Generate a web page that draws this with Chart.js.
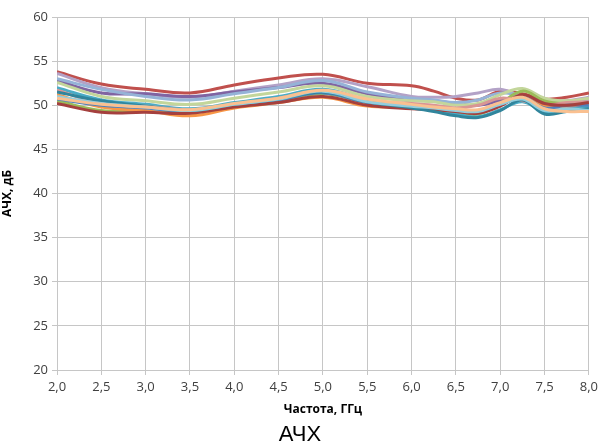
<!DOCTYPE html>
<html>
<head>
<meta charset="utf-8">
<script src="https://cdn.jsdelivr.net/npm/chart.js@4.4.0/dist/chart.umd.min.js"></script>
<style>
  html, body { margin: 0; padding: 0; background: #fff; }
  #wrap { width: 602px; height: 446px; }
</style>
</head>
<body>
<div id="wrap"><canvas id="achChart" width="602" height="446"></canvas></div>
<script>
// frequency points, GHz
var freq = [2.0, 2.5, 3.0, 3.5, 4.0, 4.5, 5.0, 5.5, 6.0, 6.25, 6.5, 6.75, 7.0, 7.25, 7.5, 7.75, 8.0];

// АЧХ, dB for each measured channel
var ch1  = [53.8, 52.4, 51.8, 51.4, 52.3, 53.1, 53.5, 52.5, 52.2, 51.6, 50.8, 50.6, 51.6, 51.3, 50.7, 50.9, 51.4];
var ch2  = [53.6, 52.0, 51.3, 50.9, 51.6, 52.3, 53.0, 52.1, 51.0, 50.9, 51.0, 51.4, 51.8, 51.0, 50.6, 50.5, 50.9];
var ch3  = [52.8, 51.4, 51.3, 51.0, 51.5, 52.0, 52.5, 51.3, 50.6, 50.5, 50.2, 50.0, 50.5, 50.8, 49.9, 49.7, 49.8];
var ch4  = [53.0, 51.8, 51.0, 50.6, 51.3, 52.0, 52.8, 51.5, 50.8, 50.6, 50.3, 50.6, 51.4, 51.0, 50.4, 50.2, 50.6];
var ch5  = [52.6, 51.0, 50.5, 50.1, 50.8, 51.5, 52.2, 51.0, 50.5, 50.4, 50.0, 50.2, 51.2, 51.9, 50.8, 50.5, 50.8];
var ch6  = [50.5, 49.4, 49.3, 49.2, 49.9, 50.5, 51.3, 50.3, 49.8, 49.6, 49.3, 49.0, 50.2, 51.6, 50.5, 50.2, 50.3];
var ch7  = [52.0, 50.6, 50.1, 49.6, 50.3, 51.0, 51.8, 50.6, 50.0, 49.6, 49.0, 48.7, 49.5, 50.4, 49.2, 49.5, 49.8];
var ch8  = [51.7, 50.2, 49.9, 49.5, 50.1, 50.8, 51.6, 50.5, 50.2, 50.0, 49.7, 50.0, 50.8, 50.5, 50.0, 50.3, 50.4];
var ch9  = [51.2, 49.8, 49.4, 48.8, 49.7, 50.3, 50.9, 49.9, 49.8, 49.7, 49.5, 49.4, 50.2, 50.8, 50.0, 49.9, 50.2];
var ch10 = [50.7, 50.0, 49.7, 49.3, 50.0, 50.6, 51.4, 50.3, 49.8, 49.6, 49.4, 49.3, 50.0, 50.9, 49.7, 50.0, 50.0];
var ch11 = [50.2, 49.2, 49.2, 49.1, 49.8, 50.3, 51.0, 50.0, 49.6, 49.5, 49.3, 49.1, 49.9, 51.2, 50.2, 50.0, 50.3];
var ch12 = [51.5, 50.5, 49.9, 49.4, 50.1, 50.7, 51.5, 50.4, 49.7, 49.3, 48.8, 48.6, 49.4, 50.6, 49.0, 49.3, 49.6];
var ch13 = [51.0, 50.2, 49.8, 49.4, 50.1, 50.7, 51.6, 50.4, 49.9, 49.7, 49.4, 49.3, 50.1, 50.7, 49.4, 49.6, 49.4];
var ch14 = [50.8, 50.1, 49.8, 49.5, 50.2, 50.8, 51.7, 50.7, 50.1, 49.8, 49.6, 49.5, 50.3, 50.9, 49.6, 49.3, 49.3];

var xTicks = [2.0, 2.5, 3.0, 3.5, 4.0, 4.5, 5.0, 5.5, 6.0, 6.5, 7.0, 7.5, 8.0];
var yTicks = [20, 25, 30, 35, 40, 45, 50, 55, 60];

var channels = [ch14, ch13, ch12, ch11, ch10, ch9, ch8, ch7, ch6, ch5, ch4, ch3, ch2, ch1];
var colors = ['#FAC090', '#93CDDD', '#31859C', '#A5403E', '#4F81BD', '#F79646', '#D99694',
              '#4BACC6', '#9BBB59', '#C3D69B', '#95B3D7', '#8064A2', '#B3A2C7', '#C0504D'];

var datasets = channels.map(function (vals, i) {
    return {
        label: 'Канал ' + (i + 1),
        data: vals.map(function (v, k) { return { x: freq[k], y: v }; }),
        borderColor: colors[i],
        borderWidth: 3,
        pointRadius: 0,
        fill: false,
        tension: 0.4
    };
});

var gridGray = '#c6c6c6';
var tickFont = { family: 'Open Sans', size: 13 };

new Chart(document.getElementById('achChart').getContext('2d'), {
    type: 'line',
    data: { datasets: datasets },
    options: {
        responsive: false,
        animation: false,
        layout: { padding: { top: 17, right: 2, left: 0, bottom: 0 } },
        plugins: {
            legend: { display: false },
            tooltip: { enabled: false },
            title: {
                display: true,
                position: 'bottom',
                text: 'АЧХ',
                color: '#000',
                font: { family: 'Liberation Sans', size: 22, weight: 'normal', lineHeight: 1.0 },
                padding: { top: 7, bottom: 0 }
            }
        },
        scales: {
            x: {
                type: 'linear',
                min: 2, max: 8,
                afterBuildTicks: function (s) { s.ticks = xTicks.map(function (v) { return { value: v }; }); },
                afterFit: function (s) { s.height = 47; },
                ticks: {
                    color: '#404040', font: tickFont, padding: 4, maxRotation: 0,
                    callback: function (v) { return Number(v).toFixed(1).replace('.', ','); }
                },
                grid: { color: gridGray, tickLength: 5, tickColor: gridGray },
                border: { color: gridGray },
                title: {
                    display: true, text: 'Частота, ГГц', color: '#000',
                    font: { family: 'Open Sans', size: 12, weight: 'bold' },
                    padding: { top: 3, bottom: 0 }
                }
            },
            y: {
                min: 20, max: 60,
                afterBuildTicks: function (s) { s.ticks = yTicks.map(function (v) { return { value: v }; }); },
                afterFit: function (s) { s.width = 57; },
                ticks: { color: '#404040', font: tickFont, padding: 4 },
                grid: { color: gridGray, tickLength: 5, tickColor: gridGray },
                border: { color: gridGray },
                title: {
                    display: true, text: 'АЧХ, дБ', color: '#000',
                    font: { family: 'Open Sans', size: 12, weight: 'bold' },
                    padding: { top: 0, bottom: 2 }
                }
            }
        }
    }
});
</script>
</body>
</html>
